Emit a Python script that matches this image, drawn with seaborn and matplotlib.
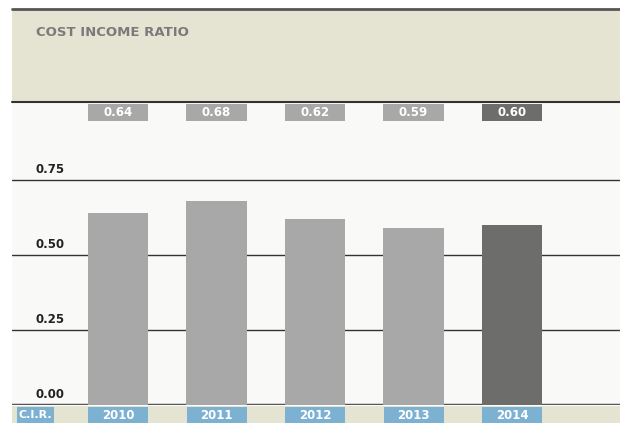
import seaborn as sns
import matplotlib.pyplot as plt
import pandas as pd
from matplotlib import font_manager
from matplotlib.patches import Rectangle

years = ['2010', '2011', '2012', '2013', '2014']
ratios = [0.64, 0.68, 0.62, 0.59, 0.60]
labels = ['0.64', '0.68', '0.62', '0.59', '0.60']
yticks = [0.00, 0.25, 0.50, 0.75]

BEIGE = '#e5e4d2'
PLOT_BG = '#f9f9f7'
LIGHT = '#a8a8a8'
DARK = '#6d6e6c'
BLUE = '#7db1d1'
LINE = '#555555'

# pick a narrow face if one happens to be there
names = {f.name for f in font_manager.fontManager.ttflist}
fam = 'DejaVu Sans'
for cand in ['Liberation Sans Narrow', 'DejaVu Sans Condensed']:
    if cand in names:
        fam = cand
        break

sns.set_theme(style='white')
plt.rcParams['font.family'] = [fam, 'DejaVu Sans']

W, H = 620, 423
fig = plt.figure(figsize=(6.2, 4.23), dpi=100)
fig.patch.set_facecolor('white')

def fx(px):
    return px / W

def fy(py):
    return 1 - py / H

# header band
fig.patches.append(Rectangle((fx(12), fy(102)), fx(608), (102 - 9) / H,
                             transform=fig.transFigure, facecolor=BEIGE, edgecolor='none', zorder=0))
# bottom band
fig.patches.append(Rectangle((fx(12), 0), fx(608), (H - 406) / H,
                             transform=fig.transFigure, facecolor=BEIGE, edgecolor='none', zorder=0))
fig.add_artist(plt.Line2D([fx(12), 1], [fy(9), fy(9)], color=LINE, lw=2, transform=fig.transFigure))
fig.add_artist(plt.Line2D([fx(12), 1], [fy(102), fy(102)], color='#333333', lw=1.5, transform=fig.transFigure))
fig.text(fx(36), fy(32), 'COST INCOME RATIO', fontsize=9.5, fontweight='bold',
         color='#7a7a7a', ha='left', va='center')

# plot area: zero line at y=405, top at y=103
ax = fig.add_axes([fx(12), fy(405), fx(608), (405 - 103) / H])
ax.set_facecolor(PLOT_BG)

df = pd.DataFrame({'year': years, 'ratio': ratios})
palette = [LIGHT] * 4 + [DARK]
sns.barplot(data=df, x='year', y='ratio', hue='year', palette=palette,
            legend=False, width=0.61, ax=ax, saturation=1, zorder=3,
            linewidth=0, edgecolor='none')

spacing = 98.5
x0 = -(118 - 12) / spacing
x1 = 4 + (620 - 512) / spacing
ax.set_xlim(x0, x1)
ax.set_ylim(0, (405 - 103) / 300)

for t in yticks:
    ax.axhline(t, color='#333333' if t > 0 else LINE, lw=1 if t > 0 else 2.5, zorder=2)
    ax.text(x0 + (65 - 12) / spacing, t + 0.012, f'{t:.2f}',
            ha='right', va='bottom', fontsize=8.5, fontweight='bold', color='#222222', zorder=4)

ax.set_xticks([])
ax.set_yticks([])
ax.set_xlabel('')
ax.set_ylabel('')
for s in ax.spines.values():
    s.set_visible(False)

# value label boxes at top and year boxes at bottom
box_h_top = (121 - 104) / 300
for i, (lab, yr) in enumerate(zip(labels, years)):
    col = palette[i]
    ytop = (405 - 104) / 300
    ax.add_patch(Rectangle((i - 0.305, ytop - box_h_top), 0.61, box_h_top,
                           facecolor=col, edgecolor='none', clip_on=False, zorder=3))
    ax.text(i, ytop - box_h_top / 2, lab, ha='center', va='center', color='white',
            fontsize=8.5, fontweight='bold', zorder=4)
    fig.patches.append(Rectangle((fx(88 + i * spacing), 0), fx(60), (H - 407) / H,
                                 transform=fig.transFigure, facecolor=BLUE, edgecolor='none', zorder=1))
    fig.text(fx(118 + i * spacing), fy(415), yr, ha='center', va='center', color='white',
             fontsize=8.5, fontweight='bold')

fig.patches.append(Rectangle((fx(17), 0), fx(37), (H - 407) / H,
                             transform=fig.transFigure, facecolor=BLUE, edgecolor='none', zorder=1))
fig.text(fx(35.5), fy(415), 'C.I.R.', ha='center', va='center', color='white',
         fontsize=8, fontweight='bold')

fig.savefig('out.png', dpi=100)
